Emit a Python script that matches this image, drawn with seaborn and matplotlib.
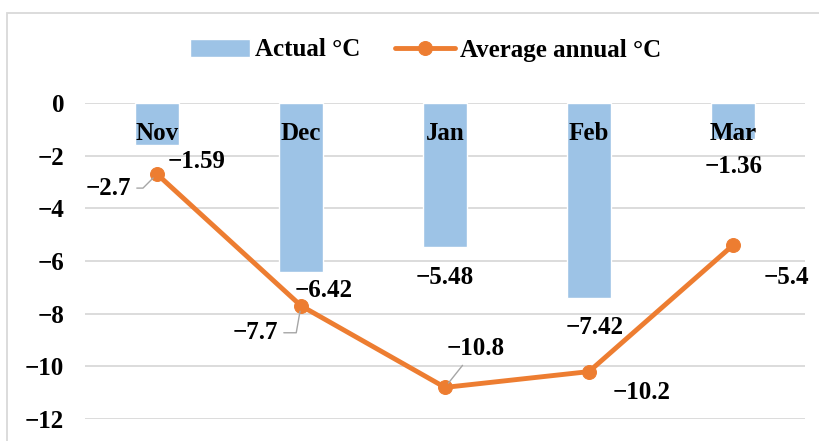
import numpy as np
import pandas as pd
import seaborn as sns
import matplotlib.pyplot as plt
from matplotlib.patches import Rectangle

months = ['Nov', 'Dec', 'Jan', 'Feb', 'Mar']
actual = [-1.59, -6.42, -5.48, -7.42, -1.36]
average = [-2.7, -7.7, -10.8, -10.2, -5.4]
yticks = [0, -2, -4, -6, -8, -10, -12]

sns.set_theme(style="white")
plt.rcParams['font.family'] = ['Liberation Serif', 'DejaVu Serif']
plt.rcParams['font.weight'] = 'bold'
plt.rcParams['text.color'] = 'black'

df = pd.DataFrame({'month': months, 'actual': actual, 'average': average})

fig = plt.figure(figsize=(8.19, 4.41), dpi=100)
ax = fig.add_axes([85 / 819, 22 / 441, 720 / 819, 316 / 441])

sns.barplot(data=df, x='month', y='actual', color='#9DC3E6', saturation=1,
            width=0.31, ax=ax, label='Actual \u00b0C', zorder=2)
sns.lineplot(x=np.arange(len(months)), y=average, color='#ED7D31', lw=3.5,
             marker='o', markersize=10, markeredgecolor='#ED7D31', ax=ax,
             label='Average annual \u00b0C', zorder=3)

ax.set_xlim(-0.5, 4.5)
ax.set_ylim(-12, 0)
ax.set_yticks(yticks)
ax.set_yticklabels([f'{v}'.replace('-', '\u2212') for v in yticks],
                   fontsize=18, fontweight='bold', color='black')
ax.tick_params(axis='y', length=0, pad=15)
ax.set_xticks([])
ax.set_xlabel('')
ax.set_ylabel('')
ax.yaxis.grid(True, color='#D9D9D9', lw=1.3, zorder=0)
for s in ax.spines.values():
    s.set_visible(False)

# category names sit near the top of the bars
for i, m in enumerate(months):
    ax.text(i, -1.15, m, ha='center', va='center', fontsize=18,
            fontweight='bold', zorder=4)

fmt = lambda v: f'{v:g}'.replace('-', '\u2212')

bar_off = [(40, -17), (23, -18), (0, -30), (6, -29), (1, -28)]
for i, v in enumerate(actual):
    ax.annotate(fmt(v), (i, v), xytext=bar_off[i], textcoords='offset pixels',
                ha='center', va='center', fontsize=18, fontweight='bold', zorder=5)

line_off = [(-49, -14), (-46, -27), (31, 39), (53, -21), (53, -32)]
conn = ['angle,angleA=0,angleB=45,rad=0', 'angle,angleA=0,angleB=80,rad=0',
        'arc3', None, None]
for i, v in enumerate(average):
    arrow = None
    if conn[i]:
        arrow = dict(arrowstyle='-', color='#A6A6A6', lw=1, shrinkA=2,
                     shrinkB=4, connectionstyle=conn[i])
    ax.annotate(fmt(v), (i, v), xytext=line_off[i], textcoords='offset pixels',
                ha='center', va='center', fontsize=18, fontweight='bold',
                arrowprops=arrow, zorder=5)

handles, labels = ax.get_legend_handles_labels()
order = [labels.index('Actual \u00b0C'), labels.index('Average annual \u00b0C')]
ax.get_legend().remove()
fig.legend([handles[k] for k in order], [labels[k] for k in order],
           loc='center', bbox_to_anchor=(0.52, 1 - 50 / 441),
           ncol=2, frameon=False, fontsize=18, handlelength=2.4,
           columnspacing=1.4, handletextpad=0.2)

fig.patches.append(Rectangle((7 / 819, -0.02), 1.0, 1 - 13 / 441 + 0.02,
                             transform=fig.transFigure, fill=False,
                             edgecolor='#D9D9D9', lw=1.3))

fig.savefig('out.png', dpi=100)
